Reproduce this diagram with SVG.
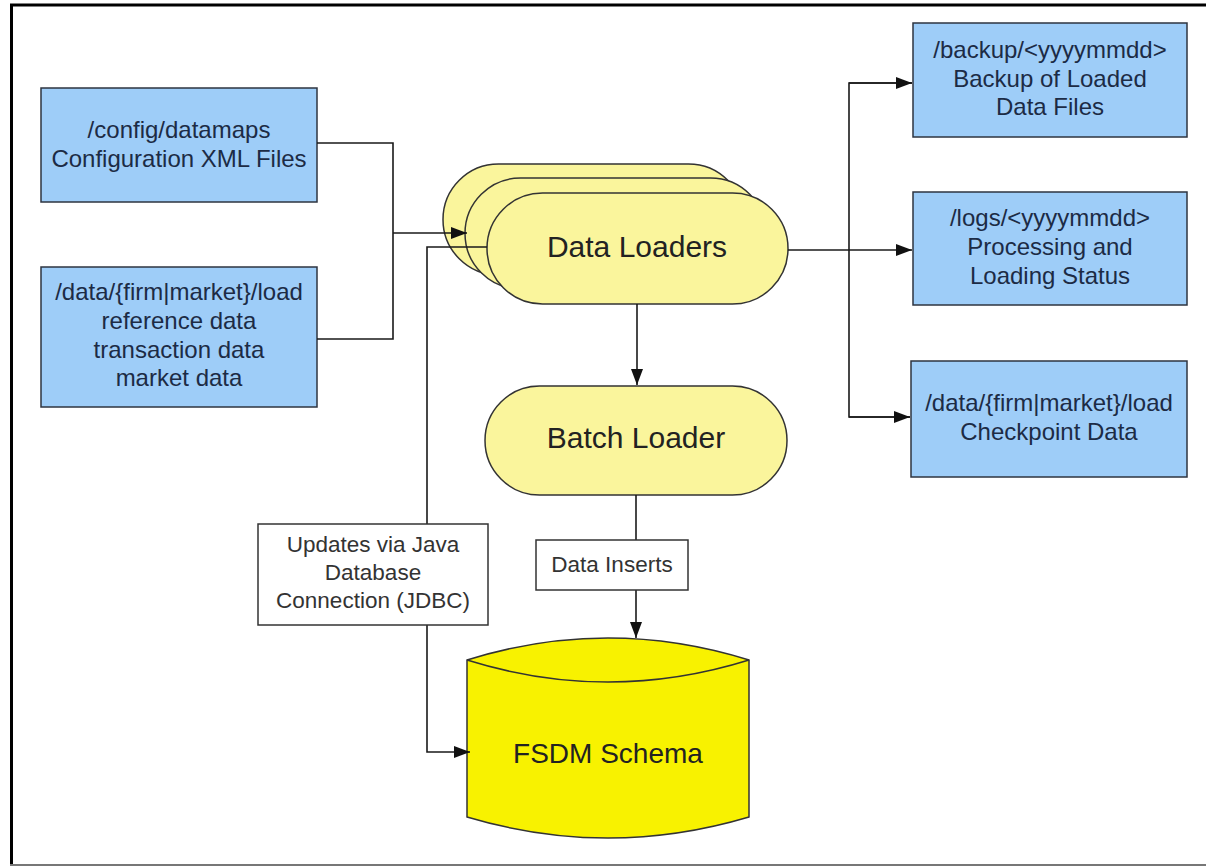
<svg xmlns="http://www.w3.org/2000/svg" width="1206" height="867" viewBox="0 0 1206 867">
  <defs>
    <marker id="arrow" viewBox="0 0 16 12" refX="16" refY="6" markerWidth="16" markerHeight="12" markerUnits="userSpaceOnUse" orient="auto">
      <path d="M0,0 L16,6 L0,12 Z" fill="#111"/>
    </marker>
    <style>
      .blue { fill: #9ECDF8; stroke: #2E3440; stroke-width: 1.5; }
      .btxt { font-family: "Liberation Sans", Arial, sans-serif; font-size: 24px; fill: #1C2B45; text-anchor: middle; }
      .stad { fill: #FAF59C; stroke: #333; stroke-width: 1.5; }
      .ytxt { font-family: "Liberation Sans", Arial, sans-serif; font-size: 30px; fill: #222; text-anchor: middle; }
      .lbl { fill: #fff; stroke: #333; stroke-width: 1.5; }
      .ltxt { font-family: "Liberation Sans", Arial, sans-serif; font-size: 22.5px; fill: #333; text-anchor: middle; }
      .conn { fill: none; stroke: #1a1a1a; stroke-width: 1.6; }
    </style>
  </defs>

  <rect x="0" y="0" width="1206" height="867" fill="#fff"/>
  <g id="frame">
    <line x1="10" y1="5" x2="1206" y2="5" stroke="#000" stroke-width="3"/>
    <line x1="11.5" y1="4" x2="11.5" y2="866" stroke="#000" stroke-width="3"/>
    <line x1="10" y1="865" x2="1206" y2="865" stroke="#777" stroke-width="2"/>
  </g>

  <g id="config-files">
    <rect class="blue" x="41" y="88" width="276" height="114"/>
    <text class="btxt" x="179" y="138">/config/datamaps</text>
    <text class="btxt" x="179" y="167">Configuration XML Files</text>
  </g>

  <g id="data-load">
    <rect class="blue" x="41" y="267" width="276" height="140"/>
    <text class="btxt" x="179" y="300">/data/{firm|market}/load</text>
    <text class="btxt" x="179" y="329">reference data</text>
    <text class="btxt" x="179" y="358">transaction data</text>
    <text class="btxt" x="179" y="386">market data</text>
  </g>

  <g id="backup">
    <rect class="blue" x="913" y="23" width="274" height="114"/>
    <text class="btxt" x="1050" y="58">/backup/&lt;yyyymmdd&gt;</text>
    <text class="btxt" x="1050" y="87">Backup of Loaded</text>
    <text class="btxt" x="1050" y="115">Data Files</text>
  </g>

  <g id="logs">
    <rect class="blue" x="913" y="192" width="274" height="113"/>
    <text class="btxt" x="1050" y="226">/logs/&lt;yyyymmdd&gt;</text>
    <text class="btxt" x="1050" y="255">Processing and</text>
    <text class="btxt" x="1050" y="284">Loading Status</text>
  </g>

  <g id="checkpoint">
    <rect class="blue" x="911" y="361" width="276" height="116"/>
    <text class="btxt" x="1049" y="411">/data/{firm|market}/load</text>
    <text class="btxt" x="1049" y="440">Checkpoint Data</text>
  </g>

  <g id="data-loaders">
    <rect class="stad" x="443" y="164" width="301" height="111" rx="55.5" ry="55.5"/>
    <rect class="stad" x="465" y="178" width="301" height="111" rx="55.5" ry="55.5"/>
    <rect class="stad" x="487" y="193" width="301" height="111" rx="55.5" ry="55.5"/>
    <text class="ytxt" x="637" y="257">Data Loaders</text>
  </g>

  <g id="batch-loader">
    <rect class="stad" x="485" y="386" width="302" height="109" rx="54.5" ry="54.5"/>
    <text class="ytxt" x="636" y="448">Batch Loader</text>
  </g>

  <g id="fsdm-schema">
    <path d="M467,660 Q608,616 749,660 L749,817 Q608,859 467,817 Z" fill="#F8F200" stroke="#333" stroke-width="1.5"/>
    <path d="M467,660 Q608,704 749,660" fill="none" stroke="#333" stroke-width="1.5"/>
    <text x="608" y="763" font-family="&quot;Liberation Sans&quot;, Arial, sans-serif" font-size="28" fill="#222" text-anchor="middle">FSDM Schema</text>
  </g>

  <g id="connectors">
    <polyline class="conn" points="317,143 393,143 393,339 317,339"/>
    <line class="conn" x1="393" y1="233" x2="467" y2="233" marker-end="url(#arrow)"/>
    <polyline class="conn" points="487,247 427,247 427,752 470,752" marker-end="url(#arrow)"/>
    <line class="conn" x1="637" y1="304" x2="637" y2="385" marker-end="url(#arrow)"/>
    <line class="conn" x1="636" y1="495" x2="636" y2="638" marker-end="url(#arrow)"/>
    <line class="conn" x1="788" y1="250" x2="912" y2="250" marker-end="url(#arrow)"/>
    <polyline class="conn" points="912,83 849,83 849,417 910,417"/>
    <line class="conn" x1="849" y1="83" x2="912" y2="83" marker-end="url(#arrow)"/>
    <line class="conn" x1="849" y1="417" x2="910" y2="417" marker-end="url(#arrow)"/>
  </g>

  <g id="label-jdbc">
    <rect class="lbl" x="258" y="524" width="230" height="101"/>
    <text class="ltxt" x="373" y="552">Updates via Java</text>
    <text class="ltxt" x="373" y="580">Database</text>
    <text class="ltxt" x="373" y="608">Connection (JDBC)</text>
  </g>

  <g id="label-inserts">
    <rect class="lbl" x="536" y="540" width="152" height="50"/>
    <text class="ltxt" x="612" y="572">Data Inserts</text>
  </g>
</svg>
